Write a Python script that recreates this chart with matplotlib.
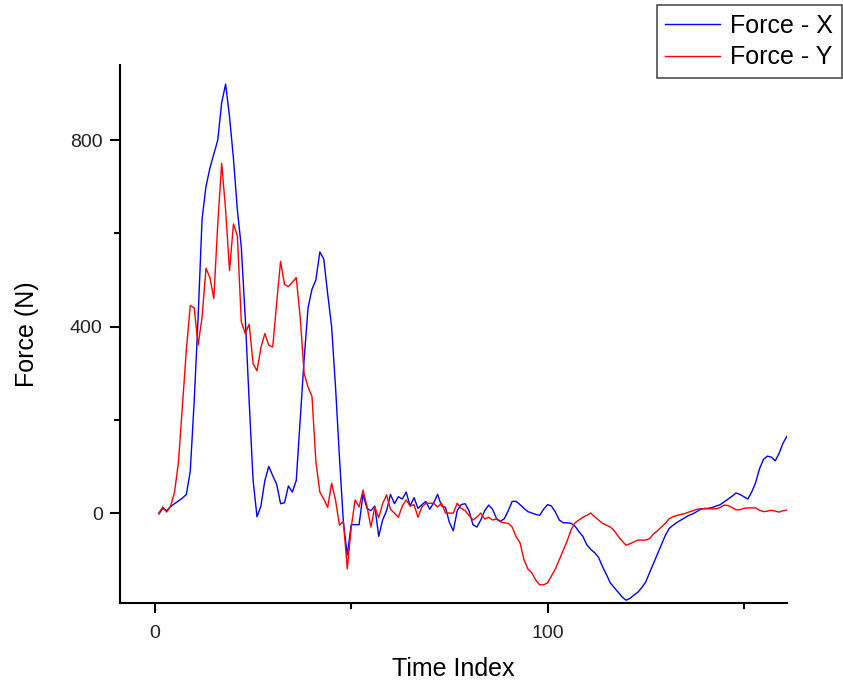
import matplotlib
matplotlib.use("Agg")
import matplotlib.pyplot as plt
import numpy as np

plt.rcParams['font.family'] = ['Liberation Sans', 'DejaVu Sans']

# time index 1..161
time_index = np.arange(1, 162)

force_x = [
    -2, 10, 5, 14, 20, 26, 32, 40, 90, 240,
    420, 630, 700, 740, 770, 800, 880, 920, 850, 760,
    650, 570, 420, 240, 70, -8, 15, 70, 100, 80,
    62, 20, 22, 58, 45, 70, 200, 330, 440, 480,
    500, 560, 545, 470, 400, 270, 120, -20, -90, -25,
    -25, -25, 40, 10, 5, 15, -50, -15, 5, 40,
    20, 35, 30, 45, 15, 33, 10, 18, 25, 8,
    22, 40, 15, 12, -20, -38, 5, 18, 20, 5,
    -25, -30, -15, 5, 17, 8, -12, -18, -12, 5,
    25, 25, 18, 10, 3, 0, -3, -5, 8, 18,
    15, 2, -15, -21, -21, -22, -28, -40, -50, -68,
    -78, -85, -95, -115, -132, -150, -160, -170, -180, -187,
    -183, -176, -170, -160, -148, -128, -108, -88, -68, -48,
    -33, -26, -20, -15, -10, -5, -2, 3, 8, 10,
    10, 12, 15, 18, 24, 30, 36, 43, 40, 35,
    30, 45, 65, 95, 115, 122, 120, 112, 128, 150,
    165,
]

force_y = [
    0, 13, 2, 15, 45, 110, 230, 350, 445, 440,
    360, 420, 525, 505, 460, 620, 750, 650, 520, 620,
    594, 410, 385, 405, 320, 305, 355, 385, 360, 356,
    450, 540, 490, 486, 495, 505, 420, 300, 270, 250,
    110, 45, 30, 12, 64, 28, -26, -18, -120, -30,
    28, 13, 49, 15, -30, 13, -10, 20, 39, 8,
    0, -9, 15, 28, 15, 18, -9, 13, 21, 21,
    21, 13, 21, 0, 0, 0, 21, 10, 5, -5,
    -15, -9, 0, -13, -9, -15, -13, -19, -21, -22,
    -30, -51, -64, -100, -120, -128, -144, -154, -154, -150,
    -135, -120, -100, -80, -60, -36, -21, -15, -9, -5,
    0, -8, -15, -22, -26, -30, -38, -50, -60, -69,
    -66, -62, -58, -58, -58, -55, -45, -38, -30, -22,
    -12, -8, -5, -3, -1, 2, 5, 8, 9, 9,
    9, 9, 9, 12, 17, 16, 12, 7, 7, 10,
    11, 11, 11, 6, 3, 4, 6, 4, 2, 5,
    6,
]

series_labels = ["Force - X", "Force - Y"]
x_major = [0, 100]
x_minor = [50, 150]
y_major = [0, 400, 800]
y_minor = [200, 600]

fig = plt.figure(figsize=(8.43, 6.84), dpi=100)
ax = fig.add_axes([120 / 843, 1 - 603 / 684, 667 / 843, 538 / 684])

ax.plot(time_index, force_x, color='#0000FF', lw=1.0, label=series_labels[0])
ax.plot(time_index, force_y, color='#FF0000', lw=1.0, label=series_labels[1])

ax.set_xlim(-8.9, 161)
ax.set_ylim(-193, 961)

ax.set_xticks(x_major)
ax.set_xticks(x_minor, minor=True)
ax.set_yticks(y_major)
ax.set_yticks(y_minor, minor=True)

for side in ['top', 'right']:
    ax.spines[side].set_visible(False)
for side in ['left', 'bottom']:
    ax.spines[side].set_linewidth(1.5)

ax.tick_params(which='major', direction='out', length=7.5, width=1.5,
               labelsize=14, colors='black', labelcolor='#222222')
ax.tick_params(which='minor', direction='out', length=4, width=1.5)
ax.tick_params(axis='x', which='major', pad=8)
ax.tick_params(axis='y', which='major', pad=5)

ax.set_xlabel("Time Index", fontsize=18)
ax.set_ylabel("Force (N)", fontsize=18)
ax.xaxis.set_label_coords(0.5, -0.1)
ax.yaxis.set_label_coords(-0.122, 0.5)

leg = fig.legend(loc='upper right', bbox_to_anchor=(842 / 843, 1 - 5 / 684),
                 fontsize=18, frameon=True, fancybox=False,
                 handlelength=2.2, handletextpad=0.4, borderpad=0.35,
                 labelspacing=0.3, borderaxespad=0)
leg.get_frame().set_edgecolor('#222222')
leg.get_frame().set_linewidth(1.2)

fig.savefig("out.png", dpi=100, facecolor='white')
